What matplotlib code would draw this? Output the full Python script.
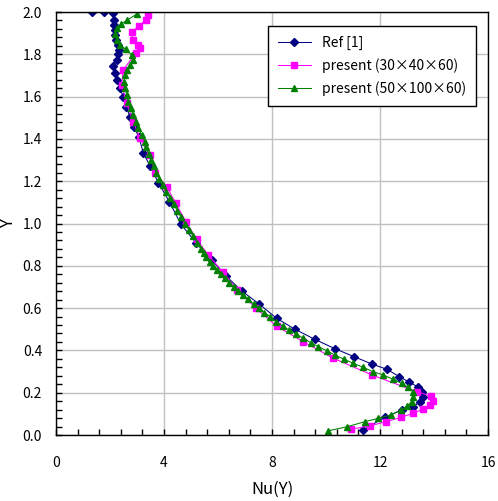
import numpy as np
import matplotlib
matplotlib.use("Agg")
import matplotlib.pyplot as plt
from matplotlib.ticker import MultipleLocator

###############################################################################
# data (Nu, Y)
###############################################################################
ref_nu = [1.32, 1.78, 2.12, 2.15, 2.16, 2.19, 2.19, 2.22, 2.28, 2.33, 2.31,
          2.25, 2.12, 2.19, 2.27, 2.38, 2.48, 2.60, 2.74, 2.89, 3.07, 3.23,
          3.48, 3.79, 4.20, 4.62, 5.19, 5.77, 6.30, 6.88, 7.53, 8.17, 8.85,
          9.59, 10.35, 11.05, 11.69, 12.25, 12.72, 13.09, 13.40, 13.54,
          13.58, 13.47, 13.23, 12.82, 12.19, 11.38]
ref_y = [2.0, 2.0, 1.995, 1.962, 1.938, 1.915, 1.89, 1.868, 1.845, 1.82,
         1.80, 1.775, 1.745, 1.71, 1.678, 1.639, 1.60, 1.55, 1.505, 1.455,
         1.41, 1.335, 1.272, 1.193, 1.103, 0.998, 0.908, 0.827, 0.752,
         0.681, 0.619, 0.552, 0.50, 0.452, 0.407, 0.370, 0.336, 0.311,
         0.276, 0.249, 0.228, 0.205, 0.181, 0.158, 0.131, 0.118, 0.085,
         0.024]

p1_nu = [3.41, 3.34, 3.08, 2.80, 2.84, 3.02, 3.13, 2.95, 2.49, 2.43, 2.62,
         2.86, 3.11, 3.48, 3.67, 4.10, 4.44, 4.81, 5.21, 5.64, 6.17, 6.72,
         7.41, 8.17, 9.16, 10.27, 11.70, 13.36, 13.88, 13.95, 13.85, 13.58,
         13.23, 12.77, 12.22, 11.62, 10.91]
p1_y = [1.988, 1.963, 1.934, 1.907, 1.868, 1.846, 1.829, 1.805, 1.726,
        1.655, 1.568, 1.481, 1.403, 1.324, 1.24, 1.174, 1.095, 1.009, 0.925,
        0.851, 0.772, 0.686, 0.599, 0.515, 0.441, 0.363, 0.284, 0.205, 0.184,
        0.163, 0.143, 0.122, 0.103, 0.083, 0.063, 0.043, 0.027]

p2_nu = [2.99, 2.64, 2.41, 2.25, 2.19, 2.25, 2.37, 2.59, 2.80, 2.84, 2.74,
         2.64, 2.56, 2.52, 2.56, 2.62, 2.68, 2.77, 2.86, 2.96, 3.05, 3.17,
         3.30, 3.33, 3.43, 3.52, 3.62, 3.72, 3.82, 3.95, 4.08, 4.23, 4.37,
         4.50, 4.63, 4.78, 4.93, 5.08, 5.23, 5.38, 5.47, 5.57, 5.69, 5.82,
         5.96, 6.10, 6.26, 6.42, 6.59, 6.75, 6.94, 7.12, 7.33, 7.52, 7.72,
         7.93, 8.15, 8.40, 8.64, 8.90, 9.16, 9.44, 9.72, 10.02, 10.33, 10.68,
         11.01, 11.38, 11.75, 12.12, 12.49, 12.80, 13.05, 13.21, 13.23, 13.17,
         13.01, 12.77, 12.40, 11.94, 11.44, 10.77, 10.09]
p2_y = [1.99, 1.962, 1.943, 1.923, 1.895, 1.868, 1.844, 1.824, 1.797, 1.773,
        1.749, 1.726, 1.702, 1.67, 1.639, 1.608, 1.576, 1.545, 1.513, 1.481,
        1.45, 1.418, 1.387, 1.36, 1.33, 1.30, 1.27, 1.24, 1.21, 1.18, 1.15,
        1.12, 1.09, 1.06, 1.03, 1.00, 0.97, 0.94, 0.91, 0.88, 0.86, 0.84,
        0.819, 0.799, 0.78, 0.761, 0.741, 0.72, 0.701, 0.682, 0.662, 0.641,
        0.619, 0.599, 0.578, 0.56, 0.536, 0.515, 0.496, 0.478, 0.457, 0.436,
        0.418, 0.399, 0.378, 0.358, 0.339, 0.32, 0.299, 0.284, 0.263, 0.244,
        0.226, 0.205, 0.181, 0.158, 0.137, 0.118, 0.095, 0.079, 0.063, 0.039,
        0.02]

labels = ["Ref [1]", "present (30\u00d740\u00d760)",
          "present (50\u00d7100\u00d760)"]

###############################################################################
# plot
###############################################################################
plt.rcParams['font.family'] = ['Noto Sans CJK JP', 'DejaVu Sans']

fig = plt.figure(figsize=(4.98, 5.01), dpi=100)
ax = fig.add_subplot(111)
fig.subplots_adjust(left=0.1124, right=0.98, top=0.976, bottom=0.1317)

ax.plot(ref_nu, ref_y, color="#000080", marker="D", ms=3.6, lw=0.75,
        label=labels[0])
ax.plot(p1_nu, p1_y, color="#FF00FF", marker="s", ms=4.3, lw=0.75,
        label=labels[1])
ax.plot(p2_nu, p2_y, color="#008000", marker="^", ms=4.8, lw=0.75,
        label=labels[2])

ax.set_xlim(0, 16)
ax.set_ylim(0, 2.0)
ax.xaxis.set_major_locator(MultipleLocator(4))
ax.xaxis.set_minor_locator(MultipleLocator(0.8))
ax.yaxis.set_major_locator(MultipleLocator(0.2))
ax.yaxis.set_minor_locator(MultipleLocator(0.04))
ax.yaxis.set_major_formatter(matplotlib.ticker.FormatStrFormatter("%.1f"))
ax.tick_params(which="both", direction="in", length=4, width=1,
               labelsize=10, pad=10)
ax.tick_params(axis="x", pad=15)
ax.grid(True, which="major", color="#C0C0C0", lw=1)
ax.set_axisbelow(True)
for s in ax.spines.values():
    s.set_linewidth(1)
    s.set_color("black")

ax.set_xlabel("Nu(Y)", fontsize=12, labelpad=8)
ax.set_ylabel("Y", fontsize=12)
ax.yaxis.set_label_coords(-0.09, 0.5)

leg = ax.legend(loc="upper right", bbox_to_anchor=(0.972, 0.967),
                borderaxespad=0, fancybox=False, edgecolor="black",
                framealpha=1, fontsize=10, handlelength=2.4,
                labelspacing=0.6, borderpad=0.7)
leg.get_frame().set_linewidth(1)

plt.savefig("out.png", dpi=100)
